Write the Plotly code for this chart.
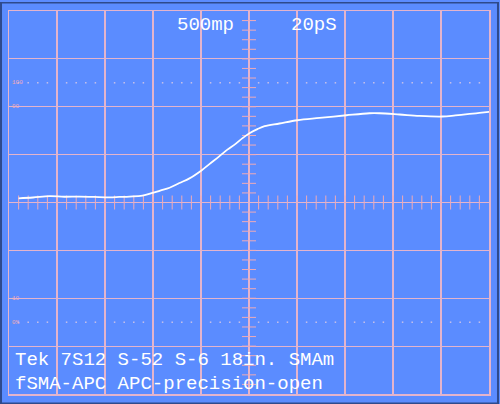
import numpy as np
import plotly.graph_objects as go

# --- data (time in ps, reflection in milli-rho) ---
time_ps = [4.0, 10.0, 16.9, 23.0, 29.4, 35.5, 41.9, 46.0, 50.2, 55.6, 59.8, 63.0, 66.9,
           71.0, 75.2, 80.2, 83.5, 87.7, 91.0, 94.4, 97.3, 100.2, 103.5, 106.5,
           112.7, 120.2, 129.4, 140.6, 150.2, 154.4, 162.7, 171.0, 180.6, 186.0,
           191.9, 196.0, 200.2]
rho_m = [44, 52, 66, 60, 62, 58, 54, 58, 62, 71, 100, 125, 154,
         203, 252, 335, 401, 484, 552, 612, 672, 724, 766, 797,
         825, 859, 883, 911, 932, 932, 919, 904, 898, 910,
         925, 935, 946]

x_divs = list(range(0, 201, 20))          # 20 ps/div
y_divs = list(range(-2000, 2001, 500))    # 500 mrho/div
ref_levels = [1250, -1250]                 # 100% / 0% dotted levels
ref_labels = [("100", 1250), ("90", 1000), ("10", -1000), ("0%", -1250)]
top_labels = ["500mp", "20pS"]
bottom_lines = ["Tek 7S12 S-52 S-6 18in. SMAm", "fSMA-APC APC-precision-open"]

BG = "#5b8cff"
GRID = "#e4b4cc"
TICK = "#eeaab8"
DOT = "#c8c0e8"
FONT = "Liberation Mono"

W, H = 500, 404
L, R, T, B = 9, 10, 9, 10
PW, PH = W - L - R, H - T - B

def px(x):
    return (x - L) / PW

def py(y):
    return (H - B - y) / PH

fig = go.Figure()

# minor ticks on center lines
minor_x = [v for v in np.arange(0, 200.01, 4.0) if abs(v - 100) > 1e-6 and v > 0 and v < 200]
minor_y = [v for v in np.arange(-2000, 2000.01, 100.0) if abs(v) > 1e-6 and abs(v) < 2000]
fig.add_trace(go.Scatter(x=minor_x, y=[0] * len(minor_x), mode="markers",
                         marker=dict(symbol="line-ns", size=10, line=dict(color=TICK, width=1)),
                         hoverinfo="skip", showlegend=False))
fig.add_trace(go.Scatter(x=[100] * len(minor_y), y=minor_y, mode="markers",
                         marker=dict(symbol="line-ew", size=10, line=dict(color=TICK, width=1)),
                         hoverinfo="skip", showlegend=False))

# dotted reference levels
dot_x = [v for v in np.arange(0, 200.01, 4.0) if (round(v) % 20) != 0]
for lev in ref_levels:
    fig.add_trace(go.Scatter(x=dot_x, y=[lev] * len(dot_x), mode="markers",
                             marker=dict(symbol="square", size=1.5, color=DOT, line=dict(width=0)),
                             hoverinfo="skip", showlegend=False))

# the trace
fig.add_trace(go.Scatter(x=time_ps, y=rho_m, mode="lines",
                         line=dict(color="white", width=1.8, shape="spline", smoothing=1.0),
                         hoverinfo="skip", showlegend=False))

axis_common = dict(showgrid=True, gridcolor=GRID, gridwidth=1.2, zeroline=False,
                   showticklabels=False, ticks="", showline=True, linecolor=GRID,
                   linewidth=1.5, mirror=True, fixedrange=True)
fig.update_xaxes(range=[0, 200], tickvals=x_divs, **axis_common)
fig.update_yaxes(range=[-2000, 2000], tickvals=y_divs, **axis_common)

ann = []
for txt, lev in ref_labels:
    ann.append(dict(x=px(10), y=lev, xref="paper", yref="y", text=txt, showarrow=False,
                    xanchor="left", yanchor="middle",
                    font=dict(family=FONT, size=6, color=TICK)))
ann.append(dict(x=px(175), y=py(23), xref="paper", yref="paper", text=top_labels[0],
                showarrow=False, xanchor="left", yanchor="middle",
                font=dict(family=FONT, size=19, color="white")))
ann.append(dict(x=px(290), y=py(23), xref="paper", yref="paper", text=top_labels[1],
                showarrow=False, xanchor="left", yanchor="middle",
                font=dict(family=FONT, size=19, color="white")))
for i, line in enumerate(bottom_lines):
    ann.append(dict(x=px(13), y=py(360 + 24 * i), xref="paper", yref="paper", text=line,
                    showarrow=False, xanchor="left", yanchor="middle",
                    font=dict(family=FONT, size=19, color="white")))

# outer dark frame
frame = "#2e4a8c"
shapes = [
    dict(type="rect", xref="paper", yref="paper", x0=px(0), x1=px(2), y0=py(H), y1=py(0),
         fillcolor=frame, line=dict(width=0), layer="above"),
    dict(type="rect", xref="paper", yref="paper", x0=px(W - 2), x1=px(W), y0=py(H), y1=py(0),
         fillcolor=frame, line=dict(width=0), layer="above"),
    dict(type="rect", xref="paper", yref="paper", x0=px(0), x1=px(W), y0=py(1.5), y1=py(0),
         fillcolor=frame, line=dict(width=0), layer="above"),
    dict(type="rect", xref="paper", yref="paper", x0=px(0), x1=px(W), y0=py(H), y1=py(H - 1.5),
         fillcolor=frame, line=dict(width=0), layer="above"),
]

fig.update_layout(width=W, height=H, margin=dict(l=L, r=R, t=T, b=B),
                  paper_bgcolor=BG, plot_bgcolor=BG, annotations=ann, shapes=shapes,
                  showlegend=False)

fig.write_html("out.html", config=dict(displayModeBar=False, staticPlot=True))
